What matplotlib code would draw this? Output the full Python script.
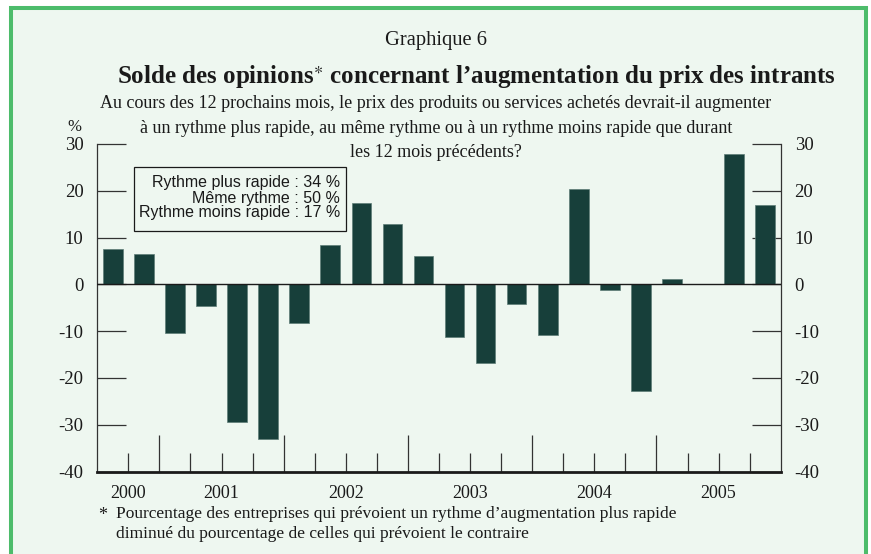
import matplotlib
matplotlib.use("Agg")
import matplotlib.pyplot as plt
import matplotlib.transforms as mtransforms
from matplotlib.patches import Rectangle
from matplotlib.ticker import FixedLocator, NullFormatter

plt.rcParams["axes.unicode_minus"] = False
plt.rcParams["font.family"] = "Liberation Serif"
plt.rcParams["mathtext.fontset"] = "stix"

# Solde des opinions, trimestriel, 2000T3 - 2005T4
values = [7.6, 6.4, -10.4, -4.7, -29.4, -33.1, -8.2, 8.5, 17.4, 13.0, 6.1,
          -11.2, -16.9, -4.1, -10.9, 20.4, -1.1, -22.9, 1.1, 0.0, 27.8, 16.9]
years = ["2000", "2001", "2002", "2003", "2004", "2005"]
year_centers = [0.5, 3.5, 7.5, 11.5, 15.5, 19.5]
year_bounds = [1.5, 5.5, 9.5, 13.5, 17.5]
yticks = [-40, -30, -20, -10, 0, 10, 20, 30]
legend_lines = ["Rythme plus rapide : 34 %",
                "Même rythme : 50 %",
                "Rythme moins rapide : 17 %"]

W, H = 871, 554
BG = "#EEF7F0"
GREEN = "#4DBC6B"
BAR = "#173F3A"
INK = "#1a1a1a"


def fx(px):
    return px / W


def fy(py):
    return 1 - py / H


def main():
    fig = plt.figure(figsize=(W / 100, H / 100), dpi=100)
    fig.patch.set_facecolor("white")

    # green frame
    frame = Rectangle((fx(11), -0.05), fx(866.3) - fx(11), fy(7.5) + 0.05,
                      transform=fig.transFigure, facecolor=BG, edgecolor=GREEN,
                      linewidth=2.9, zorder=-10)
    fig.patches.append(frame)

    left, right, top, bottom = 97.3, 780.7, 144.0, 471.5
    ax = fig.add_axes([fx(left), fy(bottom), fx(right) - fx(left), fy(top) - fy(bottom)])
    ax.set_facecolor("none")

    x = list(range(len(values)))
    ax.bar(x, values, width=0.63, color=BAR, edgecolor="#5d7d77", linewidth=0.5, zorder=2)
    ax.axhline(0, color=INK, linewidth=1.0, zorder=3)

    ax.set_xlim(-0.5, len(values) - 0.5)
    ax.set_ylim(-40, 30)

    for side in ["left", "right"]:
        ax.spines[side].set_color("#333333")
        ax.spines[side].set_linewidth(0.9)
    ax.spines["top"].set_visible(False)
    ax.spines["bottom"].set_linewidth(2.0)
    ax.spines["bottom"].set_color(INK)

    ax.set_yticks(yticks)
    ax.set_yticklabels([str(v) for v in yticks])
    ax.tick_params(axis="y", direction="in", length=21, width=0.9, color="#333333",
                   left=True, right=True, labelleft=True, labelright=True,
                   pad=10, labelsize=13.5, labelcolor=INK)

    quarter_bounds = [b + 0.5 for b in range(len(values) - 1) if b + 0.5 not in year_bounds]
    ax.xaxis.set_major_locator(FixedLocator(year_bounds))
    ax.xaxis.set_minor_locator(FixedLocator(quarter_bounds))
    ax.xaxis.set_major_formatter(NullFormatter())
    ax.tick_params(axis="x", which="major", direction="in", length=27, width=0.9, color="#333333")
    ax.tick_params(axis="x", which="minor", direction="in", length=14, width=0.9, color="#333333")

    trans = mtransforms.blended_transform_factory(ax.transData, fig.transFigure)
    for yr, c in zip(years, year_centers):
        ax.text(c, fy(493), yr, transform=trans, ha="center", va="center",
                fontsize=13, color=INK)

    # legend box
    box = Rectangle((fx(134), fy(231)), fx(346) - fx(134), fy(167) - fy(231),
                    transform=fig.transFigure, facecolor="none", edgecolor=INK,
                    linewidth=0.9, zorder=5)
    fig.patches.append(box)
    fig.text(fx(340), fy(198), "\n".join(legend_lines), ha="right", va="center",
             multialignment="right", family="Liberation Sans", fontsize=11.5,
             linespacing=1.0, color=INK)

    # titles
    fig.text(0.5, fy(40), "Graphique 6", ha="center", va="center", fontsize=14.8, color=INK)
    fig.text(fx(476), fy(77),
             r"Solde des opinions$^{\ast}$ concernant l’augmentation du prix des intrants",
             ha="center", va="center", fontsize=18, fontweight="bold", color=INK)
    subtitle = ["Au cours des 12 prochains mois, le prix des produits ou services achetés devrait-il augmenter",
                "à un rythme plus rapide, au même rythme ou à un rythme moins rapide que durant",
                "les 12 mois précédents?"]
    for i, line in enumerate(subtitle):
        fig.text(fx(436), fy(104 + 24.5 * i), line, ha="center", va="center",
                 fontsize=13, color=INK)
    fig.text(fx(74), fy(127), "%", ha="center", va="center", fontsize=12, color=INK)

    # footnote
    fig.text(fx(98), fy(516), "*", ha="left", va="center", fontsize=13, color=INK)
    footnote = ["Pourcentage des entreprises qui prévoient un rythme d’augmentation plus rapide",
                "diminué du pourcentage de celles qui prévoient le contraire"]
    for i, line in enumerate(footnote):
        fig.text(fx(116), fy(514 + 19.5 * i), line, ha="left", va="center",
                 fontsize=12.5, color=INK)

    fig.savefig("out.png", dpi=100, facecolor=fig.get_facecolor())
    plt.close(fig)


if __name__ == "__main__":
    main()
